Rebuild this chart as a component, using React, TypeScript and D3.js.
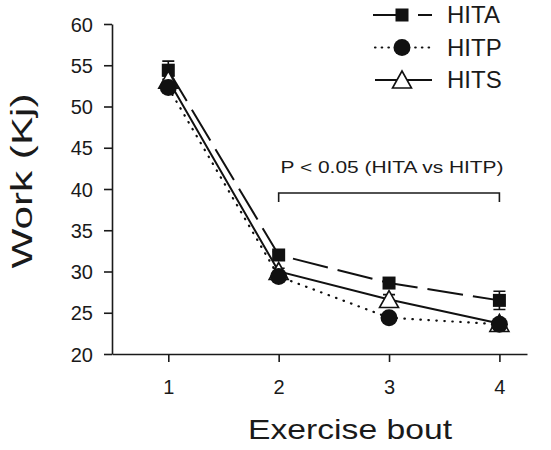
import { useEffect, useRef } from 'react';
import * as d3 from 'd3';

const bouts = [1, 2, 3, 4];
const yTicks = [20, 25, 30, 35, 40, 45, 50, 55, 60];
const hita = [54.4, 32.0, 28.6, 26.5];
const hitaErr = [1.1, 0.4, 0.5, 1.1];
const hitp = [52.3, 29.4, 24.4, 23.6];
const hitpErr = [0.5, 0.3, 0.4, 0.4];
const hits = [53.2, 30.0, 26.6, 23.7];
const hitsErr = [0.5, 0.4, 0.6, 0.4];
const sigText = 'P < 0.05 (HITA vs HITP)';

const FONT = 'Liberation Sans, Arial, sans-serif';
const INK = '#1a1a1a';
const DASH = '36,10';
const DOT = '0.5,7.5';

export default function App() {
  const ref = useRef<SVGSVGElement>(null);

  useEffect(() => {
    const svg = d3.select(ref.current);
    svg.selectAll('*').remove();

    const x = d3.scaleLinear().domain([0.49, 4.25]).range([112, 527]);
    const y = d3.scaleLinear().domain([20, 60]).range([354, 24]);

    // axes
    const yAx = svg.append('g').attr('transform', 'translate(112,0)')
      .call(d3.axisLeft(y).tickValues(yTicks).tickSize(8).tickSizeOuter(0));
    yAx.select('.domain').attr('stroke', INK).attr('stroke-width', 1.6);
    yAx.selectAll('line').attr('stroke', INK).attr('stroke-width', 1.6);
    yAx.selectAll('text').attr('font-size', 20).attr('font-family', FONT).attr('fill', INK)
      .attr('x', -19).attr('dy', '0.36em');

    const xAx = svg.append('g').attr('transform', 'translate(0,354)')
      .call(d3.axisBottom(x).tickValues(bouts).tickFormat(d3.format('d')).tickSize(8).tickSizeOuter(0));
    xAx.select('.domain').attr('stroke', INK).attr('stroke-width', 1.6);
    xAx.selectAll('line').attr('stroke', INK).attr('stroke-width', 1.6);
    xAx.selectAll('text').attr('font-size', 20).attr('font-family', FONT).attr('fill', INK)
      .attr('y', 40).attr('dy', 0);

    svg.append('text').attr('transform', 'translate(32,181) rotate(-90)')
      .attr('text-anchor', 'middle').attr('font-size', 30).attr('font-family', FONT).attr('fill', INK)
      .attr('textLength', 175).attr('lengthAdjust', 'spacingAndGlyphs')
      .text('Work (Kj)');
    svg.append('text').attr('x', 350).attr('y', 439)
      .attr('text-anchor', 'middle').attr('font-size', 28).attr('font-family', FONT).attr('fill', INK)
      .attr('textLength', 204).attr('lengthAdjust', 'spacingAndGlyphs')
      .text('Exercise bout');

    // significance bracket
    const b = svg.append('g');
    const by = 193;
    b.append('path')
      .attr('d', `M${x(2)},${by + 9}V${by}H${x(4)}V${by + 9}`)
      .attr('fill', 'none').attr('stroke', INK).attr('stroke-width', 1.6);
    b.append('text').attr('x', x(3) + 3).attr('y', 173).attr('text-anchor', 'middle')
      .attr('font-size', 16).attr('font-family', FONT).attr('fill', INK)
      .attr('textLength', 223).attr('lengthAdjust', 'spacingAndGlyphs').text(sigText);

    const line = d3.line<number>().x((_, i) => x(bouts[i])).y(d => y(d));

    const marker = (g: any, shape: string, cx: number, cy: number) => {
      if (shape === 'square') {
        g.append('rect').attr('x', cx - 6.5).attr('y', cy - 6.5).attr('width', 13).attr('height', 13).attr('fill', '#111');
      } else if (shape === 'circle') {
        g.append('circle').attr('cx', cx).attr('cy', cy).attr('r', 8.5).attr('fill', '#111');
      } else {
        g.append('path').attr('d', `M${cx},${cy - 9}L${cx + 9.5},${cy + 8}H${cx - 9.5}Z`)
          .attr('fill', '#fff').attr('stroke', '#111').attr('stroke-width', 1.6);
      }
    };

    const series = [
      { vals: hita, err: hitaErr, dash: DASH, shape: 'square' },
      { vals: hits, err: hitsErr, dash: null, shape: 'triangle' },
      { vals: hitp, err: hitpErr, dash: DOT, shape: 'circle' },
    ];

    series.forEach(s => {
      const g = svg.append('g');
      g.append('path').attr('d', line(s.vals)).attr('fill', 'none').attr('stroke', '#111')
        .attr('stroke-width', s.dash === DOT ? 2.2 : 2).attr('stroke-dasharray', s.dash)
        .attr('stroke-linecap', s.dash === DOT ? 'round' : 'butt');
      s.vals.forEach((v, i) => {
        const cx = x(bouts[i]);
        const e = s.err[i];
        g.append('path')
          .attr('d', `M${cx},${y(v + e)}V${y(v - e)}M${cx - 6},${y(v + e)}H${cx + 6}M${cx - 6},${y(v - e)}H${cx + 6}`)
          .attr('stroke', '#111').attr('stroke-width', 1.6);
        marker(g, s.shape, cx, y(v));
      });
    });

    // legend
    const legend = [
      { name: 'HITA', dash: DASH, shape: 'square' },
      { name: 'HITP', dash: DOT, shape: 'circle' },
      { name: 'HITS', dash: null, shape: 'triangle' },
    ];
    legend.forEach((l, i) => {
      const ly = 15 + i * 32.5;
      const g = svg.append('g');
      if (l.name === 'HITA') {
        g.append('path').attr('d', `M373,${ly}H403M418,${ly}H432`).attr('stroke', '#111').attr('stroke-width', 2);
      } else {
        g.append('line').attr('x1', 375).attr('x2', 432).attr('y1', ly).attr('y2', ly)
          .attr('stroke', '#111').attr('stroke-width', l.dash ? 2.2 : 2)
          .attr('stroke-dasharray', l.dash ? '0.5,6.2' : null)
          .attr('stroke-linecap', l.dash ? 'round' : 'butt');
      }
      marker(g, l.shape, 402, ly);
      g.append('text').attr('x', 447).attr('y', ly + 8).attr('font-size', 24).attr('font-family', FONT)
        .attr('fill', INK).text(l.name);
    });
  }, []);

  return <svg ref={ref} width={551} height={450} style={{ position: 'absolute', left: 0, top: 0 }} />;
}
